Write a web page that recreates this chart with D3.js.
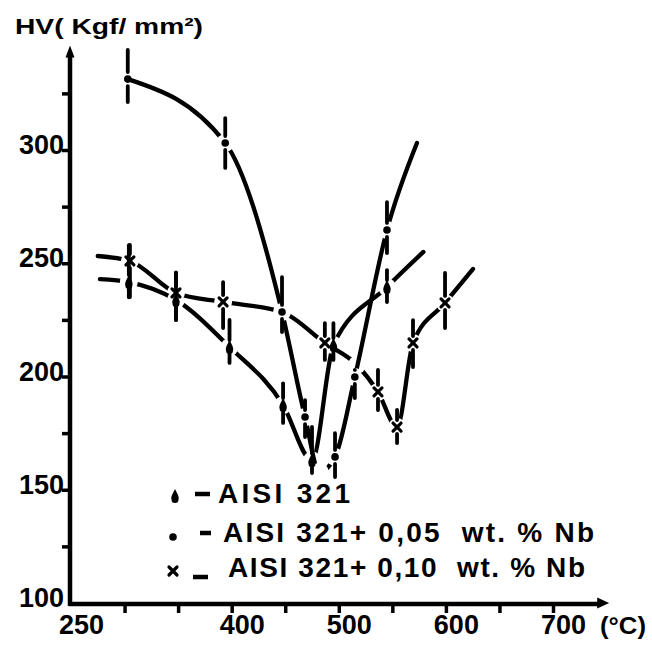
<!DOCTYPE html>
<html>
<head>
<meta charset="utf-8">
<script src="https://cdn.jsdelivr.net/npm/d3@7/dist/d3.min.js"></script>
<style>
  body { margin: 0; background: #fff; }
  svg { display: block; }
  text { font-family: "Liberation Sans", Arial, sans-serif; font-weight: bold; fill: #000; }
</style>
</head>
<body>
<svg id="chart" width="652" height="645"></svg>
<script>
// Axis ticks and labels
const xTickValues = [300, 350, 400, 450, 500, 550, 600, 650, 700];
const xTickLabels = [250, 400, 500, 600, 700];
const yTickValues = [125, 150, 175, 200, 225, 250, 275, 300, 325];
const yTickLabels = [100, 150, 200, 250, 300];

// AISI 321 (drop marker); null lo/hi = curve point without a measured bar
const aisiTemp = [277, 304, 348, 398, 448, 475, 495, 545, 579];
const aisiHV   = [243, 241.7, 233.8, 213, 187.4, 163, 213.9, 239.5, 255];
const aisiLo   = [null, 235, 225, 206, 179.5, 157.4, 207.3, 232.9, null];
const aisiHi   = [null, 258, 246, 225, 197, 177.7, 223.6, 247, null];

// AISI 321 + 0,05 wt.% Nb (dot marker)
const nb05Temp = [303, 394, 447, 468.5, 482, 496.5, 515, 545, 573];
const nb05HV   = [331.3, 303.1, 228.5, 182.1, 158, 164.5, 199.8, 264.7, 303.1];
const nb05Lo   = [321.2, 292.1, 219.6, 173.3, null, 155.6, 190.5, 254.5, null];
const nb05Hi   = [344.2, 314.1, 243.9, 189.6, null, 175, 202.9, 277, null];

// AISI 321 + 0,10 wt.% Nb (cross marker)
const nb10Temp = [275, 305, 348, 392, 447, 487, 517, 536.6, 554.4, 569.3, 599.2, 625.3];
const nb10HV   = [253.2, 251, 236.9, 232.9, 228.5, 214.8, 205.1, 193.2, 177.7, 214.8, 232.5, 247.5];
const nb10Lo   = [null, 235.1, 224.9, 221.4, null, 207.3, null, 185.2, 170.6, 204.2, 221.4, null];
const nb10Hi   = [null, 258.1, 245.7, 241.7, null, 223.6, null, 202.9, 185.2, 224.9, 245.7, null];

const legendLabels = ["AISI 321", "AISI 321+ 0,05  wt. % Nb", "AISI 321+ 0,10  wt. % Nb"];

const series = [
  { marker: "drop",  temp: aisiTemp, hv: aisiHV, lo: aisiLo, hi: aisiHi },
  { marker: "dot",   temp: nb05Temp, hv: nb05HV, lo: nb05Lo, hi: nb05Hi },
  { marker: "cross", temp: nb10Temp, hv: nb10HV, lo: nb10Lo, hi: nb10Hi }
];

const ink = "#000";
const svg = d3.select("#chart");
const x = d3.scaleLinear().domain([250, 700]).range([71, 553]);
const y = d3.scaleLinear().domain([100, 300]).range([603, 150]);
const axisX = 70, axisY = 604;

// ---- axes ----
svg.append("line").attr("x1", axisX).attr("x2", axisX)
  .attr("y1", axisY + 2).attr("y2", y(343))
  .attr("stroke", ink).attr("stroke-width", 4.5);
svg.append("path").attr("d", `M${axisX},${y(343) - 7} l-4.5,12 l9,0 z`).attr("fill", ink);

svg.append("line").attr("x1", axisX - 1).attr("x2", x(745))
  .attr("y1", axisY).attr("y2", axisY)
  .attr("stroke", ink).attr("stroke-width", 4.5);
svg.append("path").attr("d", `M${x(745) + 8},${axisY - 1} l-12,-5.5 l0,11 z`).attr("fill", ink);

const yTicks = svg.append("g").attr("transform", `translate(${axisX},0)`)
  .call(d3.axisLeft(y).tickValues(yTickValues).tickSize(8).tickFormat(""));
yTicks.select(".domain").remove();
yTicks.selectAll("line").attr("stroke", ink).attr("stroke-width", 3.5);

const yLab = svg.append("g").attr("transform", `translate(${axisX},-5)`)
  .call(d3.axisLeft(y).tickValues(yTickLabels).tickSize(0).tickPadding(6));
yLab.select(".domain").remove();
yLab.selectAll("text").attr("font-size", 27).attr("fill", ink);

const xTicks = svg.append("g").attr("transform", `translate(0,${axisY})`)
  .call(d3.axisBottom(x).tickValues(xTickValues).tickSize(9).tickFormat(""));
xTicks.select(".domain").remove();
xTicks.selectAll("line").attr("stroke", ink).attr("stroke-width", 3.5);

const xLab = svg.append("g").attr("transform", `translate(10,${axisY})`)
  .call(d3.axisBottom(x).tickValues(xTickLabels).tickSize(0).tickPadding(11));
xLab.select(".domain").remove();
xLab.selectAll("text").attr("font-size", 27).attr("fill", ink);

svg.append("text").attr("x", 600).attr("y", 634).attr("font-size", 24)
  .attr("textLength", 46).attr("lengthAdjust", "spacingAndGlyphs").text("(°C)");

svg.append("text").attr("x", 15).attr("y", 34).attr("font-size", 22)
  .attr("textLength", 188).attr("lengthAdjust", "spacingAndGlyphs").text("HV( Kgf/ mm²)");

// ---- curves, broken where they meet a measured point ----
const defs = svg.append("defs");
const line = d3.line().x(d => x(d[0])).y(d => y(d[1])).curve(d3.curveMonotoneX);

series.forEach((s, i) => {
  const pts = s.temp.map((t, k) => [t, s.hv[k]]);
  const mask = defs.append("mask").attr("id", `gap${i}`).attr("maskUnits", "userSpaceOnUse")
    .attr("x", 0).attr("y", 0).attr("width", 652).attr("height", 645);
  mask.append("rect").attr("width", 652).attr("height", 645).attr("fill", "#fff");
  mask.selectAll("circle").data(pts.slice(1, -1)).join("circle")
    .attr("cx", d => x(d[0])).attr("cy", d => y(d[1])).attr("r", 9).attr("fill", "#000");
  svg.append("path").datum(pts).attr("d", line)
    .attr("fill", "none").attr("stroke", ink).attr("stroke-width", 4.3)
    .attr("stroke-linecap", "round").attr("mask", `url(#gap${i})`);
});

// ---- scatter bars and markers ----
function drawMarker(g, type, cx, cy) {
  if (type === "dot") {
    g.append("circle").attr("cx", cx).attr("cy", cy).attr("r", 3.8).attr("fill", ink);
  } else if (type === "drop") {
    g.append("path").attr("d", `M${cx},${cy - 7} C${cx + 2},${cy - 3} ${cx + 4.5},${cy + 1} ${cx + 3.5},${cy + 3.5} A3.5,3.5 0 0 1 ${cx - 3.5},${cy + 3.5} C${cx - 4.5},${cy + 1} ${cx - 2},${cy - 3} ${cx},${cy - 7} Z`)
      .attr("fill", ink);
  } else {
    g.append("path").attr("d", `M${cx - 4},${cy - 4} L${cx + 4},${cy + 4} M${cx - 4},${cy + 4} L${cx + 4},${cy - 4}`)
      .attr("stroke", ink).attr("stroke-width", 3.2).attr("stroke-linecap", "round");
  }
}

const marks = svg.append("g");
series.forEach(s => {
  s.temp.forEach((t, k) => {
    if (s.lo[k] == null) return;
    const cx = x(t), cy = y(s.hv[k]);
    const top = y(s.hi[k]), bot = y(s.lo[k]);
    if (cy - 7 > top) marks.append("line").attr("x1", cx).attr("x2", cx).attr("y1", top).attr("y2", cy - 7)
      .attr("stroke", ink).attr("stroke-width", 3.8).attr("stroke-linecap", "round");
    if (bot > cy + 7) marks.append("line").attr("x1", cx).attr("x2", cx).attr("y1", cy + 7).attr("y2", bot)
      .attr("stroke", ink).attr("stroke-width", 3.8).attr("stroke-linecap", "round");
    drawMarker(marks, s.marker, cx, cy);
  });
});

// ---- legend ----
const legendRows = [
  { mx: 175, my: 496, dash: [195, 210, 494], tx: 218, base: 503, len: 132 },
  { mx: 173, my: 537, dash: [200, 211, 533], tx: 223, base: 542, len: 371 },
  { mx: 173, my: 571, dash: [193, 208, 577], tx: 228, base: 577, len: 357 }
];
legendRows.forEach((r, i) => {
  drawMarker(svg, series[i].marker, r.mx, r.my);
  svg.append("line").attr("x1", r.dash[0]).attr("x2", r.dash[1]).attr("y1", r.dash[2]).attr("y2", r.dash[2])
    .attr("stroke", ink).attr("stroke-width", 4.5);
  svg.append("text").attr("x", r.tx).attr("y", r.base).attr("font-size", 28)
    .attr("textLength", r.len).attr("lengthAdjust", "spacing")
    .style("white-space", "pre").text(legendLabels[i]);
});
</script>
</body>
</html>
